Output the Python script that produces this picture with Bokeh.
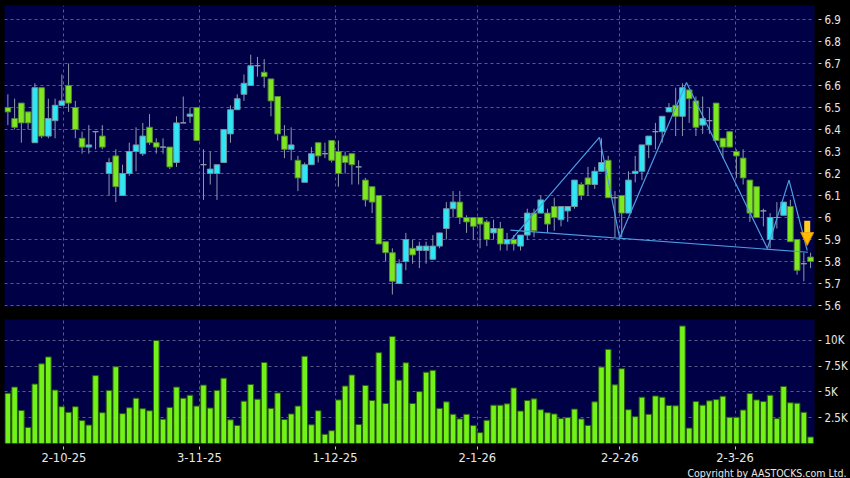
from bokeh.plotting import figure
from bokeh.layouts import column
from bokeh.models import (ColumnDataSource, FixedTicker, NumeralTickFormatter,
                          Arrow, NormalHead, Title, Range1d)
from bokeh.embed import file_html
from bokeh.resources import INLINE

# ---------------- data ----------------
opens = [6.50, 6.45, 6.52, 6.48, 6.34, 6.59, 6.37, 6.44, 6.51, 6.60,
         6.50, 6.36, 6.32, 6.39, 6.37, 6.20, 6.28, 6.10, 6.20, 6.30,
         6.29, 6.41, 6.34, 6.32, 6.32, 6.25, 6.43, 6.46, 6.50, 6.24,
         6.20, 6.20, 6.25, 6.38, 6.49, 6.56, 6.60, 6.69, 6.66, 6.63,
         6.55, 6.37, 6.31, 6.26, 6.16, 6.24, 6.34, 6.29, 6.35, 6.30,
         6.28, 6.29, 6.23, 6.17, 6.14, 6.10, 5.89, 5.84, 5.70, 5.80,
         5.86, 5.85, 5.85, 5.81, 5.87, 5.95, 6.04, 6.07, 6.00, 6.00,
         6.00, 5.98, 5.93, 5.95, 5.88, 5.90, 5.87, 5.92, 6.02, 6.02,
         6.02, 6.05, 5.99, 6.03, 6.05, 6.15, 6.18, 6.15, 6.21, 6.26,
         6.09, 6.10, 6.02, 6.20, 6.21, 6.33, 6.39, 6.39, 6.48, 6.51,
         6.46, 6.58, 6.53, 6.42, 6.44, 6.52, 6.36, 6.39, 6.30, 6.27,
         6.17, 6.14, 6.03, 5.90, 6.00, 6.01, 6.05, 5.90, 5.79, 5.82]
highs = [6.56, 6.54, 6.52, 6.48, 6.61, 6.59, 6.54, 6.54, 6.65, 6.70,
         6.53, 6.39, 6.42, 6.39, 6.42, 6.27, 6.31, 6.24, 6.34, 6.41,
         6.43, 6.47, 6.36, 6.36, 6.32, 6.46, 6.55, 6.50, 6.50, 6.31,
         6.30, 6.24, 6.40, 6.51, 6.56, 6.65, 6.74, 6.73, 6.72, 6.63,
         6.55, 6.42, 6.41, 6.28, 6.25, 6.32, 6.34, 6.34, 6.35, 6.35,
         6.30, 6.29, 6.26, 6.18, 6.14, 6.10, 5.89, 5.86, 5.81, 5.93,
         5.90, 5.89, 5.89, 5.92, 5.93, 6.07, 6.12, 6.12, 6.01, 6.00,
         6.00, 5.99, 5.99, 5.98, 5.93, 5.92, 5.92, 6.04, 6.04, 6.10,
         6.04, 6.09, 6.05, 6.05, 6.17, 6.16, 6.23, 6.23, 6.36, 6.28,
         6.12, 6.10, 6.21, 6.28, 6.33, 6.37, 6.43, 6.46, 6.52, 6.59,
         6.61, 6.58, 6.55, 6.55, 6.50, 6.52, 6.36, 6.39, 6.31, 6.31,
         6.17, 6.14, 6.04, 6.02, 6.07, 6.07, 6.08, 5.90, 5.84, 5.84]
lows = [6.42, 6.40, 6.34, 6.40, 6.34, 6.36, 6.36, 6.36, 6.51, 6.48,
        6.36, 6.29, 6.29, 6.31, 6.31, 6.10, 6.07, 6.10, 6.19, 6.21,
        6.28, 6.33, 6.29, 6.29, 6.22, 6.23, 6.43, 6.43, 6.35, 6.08,
        6.15, 6.08, 6.25, 6.34, 6.49, 6.53, 6.60, 6.64, 6.59, 6.46,
        6.35, 6.27, 6.26, 6.12, 6.16, 6.24, 6.25, 6.27, 6.25, 6.14,
        6.20, 6.15, 6.15, 6.05, 6.02, 5.88, 5.80, 5.65, 5.70, 5.76,
        5.79, 5.77, 5.79, 5.81, 5.86, 5.90, 6.00, 5.97, 5.93, 5.90,
        5.86, 5.87, 5.90, 5.85, 5.85, 5.85, 5.85, 5.90, 5.91, 6.02,
        5.93, 5.94, 5.96, 5.98, 6.04, 6.08, 6.10, 6.13, 6.21, 6.09,
        5.91, 5.91, 6.02, 6.16, 6.17, 6.27, 6.31, 6.34, 6.48, 6.37,
        6.37, 6.43, 6.37, 6.38, 6.38, 6.35, 6.27, 6.32, 6.18, 6.15,
        5.98, 6.00, 5.96, 5.86, 5.95, 6.01, 5.89, 5.74, 5.71, 5.77]
closes = [6.48, 6.41, 6.43, 6.43, 6.59, 6.37, 6.45, 6.51, 6.53, 6.52,
          6.40, 6.32, 6.33, 6.39, 6.32, 6.25, 6.14, 6.20, 6.30, 6.33,
          6.37, 6.34, 6.32, 6.32, 6.23, 6.43, 6.43, 6.47, 6.35, 6.24,
          6.22, 6.24, 6.40, 6.49, 6.54, 6.61, 6.69, 6.69, 6.64, 6.53,
          6.38, 6.31, 6.33, 6.18, 6.24, 6.29, 6.28, 6.29, 6.26, 6.20,
          6.25, 6.24, 6.23, 6.08, 6.07, 5.88, 5.84, 5.71, 5.79, 5.90,
          5.83, 5.87, 5.87, 5.87, 5.93, 6.04, 6.07, 6.00, 5.98, 5.96,
          5.97, 5.90, 5.95, 5.88, 5.90, 5.88, 5.92, 6.02, 5.94, 6.08,
          5.97, 6.00, 6.05, 6.05, 6.17, 6.10, 6.15, 6.21, 6.25, 6.09,
          6.09, 6.02, 6.17, 6.21, 6.33, 6.37, 6.39, 6.46, 6.50, 6.46,
          6.59, 6.54, 6.41, 6.45, 6.44, 6.35, 6.32, 6.32, 6.28, 6.18,
          6.02, 6.00, 6.03, 6.00, 6.00, 6.07, 5.89, 5.76, 5.79, 5.80]
volumes = [4860, 5460, 3200, 1560, 5750, 7710, 8380, 5170, 3560, 3020,
           3560, 2220, 1780, 6570, 2980, 5140, 7430, 2890, 3460, 4380,
           3370, 3170, 9970, 2350, 3490, 5460, 4380, 4670, 3620, 5650,
           3430, 5140, 6320, 2290, 1750, 4100, 5710, 4290, 7840, 3400,
           4890, 2320, 2860, 3620, 8440, 1810, 3170, 890, 1240, 4220,
           5560, 6630, 1840, 5620, 4160, 8790, 3870, 10350, 6130, 7810,
           3870, 5020, 6900, 7080, 3400, 4030, 2830, 2380, 2830, 1750,
           1050, 2250, 3710, 3710, 3840, 5370, 3140, 4160, 4320, 3270,
           2980, 2860, 2410, 2510, 3330, 2380, 1750, 4030, 7400, 9110,
           5680, 7240, 3270, 2600, 4480, 2830, 4600, 4480, 3680, 3650,
           11370, 1490, 4060, 3710, 4130, 4250, 4570, 2540, 2540, 3240,
           4830, 4220, 4060, 4670, 2410, 5520, 3940, 3900, 3020, 630]

date_labels = ["2-10-25", "3-11-25", "1-12-25", "2-1-26", "2-2-26", "2-3-26"]
date_index = [8.3, 28.4, 48.5, 69.6, 90.7, 107.8]

price_ticks = [5.6, 5.7, 5.8, 5.9, 6.0, 6.1, 6.2, 6.3, 6.4, 6.5, 6.6, 6.7, 6.8, 6.9]
vol_ticks = [2500, 5000, 7500, 10000]
vol_tick_labels = ["2.5K", "5K", "7.5K", "10K"]

# pattern drawing (index, price)
zigzag_index = [74.5, 87.7, 90.7, 100.6, 112.6, 115.8, 118.5]
zigzag_price = [5.895, 6.364, 5.907, 6.614, 5.859, 6.17, 5.85]
neck_index = [74.5, 118.6]
neck_price = [5.943, 5.842]
arrow_index = 118.5
arrow_from = 5.985
arrow_to = 5.873

copyright_text = "Copyright by AASTOCKS.com Ltd."

# ---------------- styling ----------------
FONT_C = "DejaVu Sans Condensed"
FONT_R = "DejaVu Sans"
PANEL = "#000046"
GRID = "#5a5a88"
TEXT = "#e8e8e8"
UP_FILL, UP_LINE = "#2ee6f5", "#7392a0"
DN_FILL, DN_LINE = "#7de81f", "#56883a"
DOJI = "#8d9aab"
WICK = "#8d9aab"

n = len(closes)
idx = list(range(n))
tops, bottoms, fills, lines = [], [], [], []
for o, c in zip(opens, closes):
    tops.append(max(o, c))
    bottoms.append(min(o, c))
    if c > o:
        fills.append(UP_FILL); lines.append(UP_LINE)
    elif c < o:
        fills.append(DN_FILL); lines.append(DN_LINE)
    else:
        fills.append(DOJI); lines.append(DOJI)

src = ColumnDataSource(dict(x=idx, high=highs, low=lows, top=tops,
                            bottom=bottoms, fill=fills, line=lines, vol=volumes))

x_start, x_end = -0.5, 119.58


def style_common(p):
    p.background_fill_color = PANEL
    p.border_fill_color = "black"
    p.outline_line_color = None
    for g in (p.xgrid, p.ygrid):
        g.grid_line_color = GRID
        g.grid_line_dash = "3 3"
        g.grid_line_width = 1
    p.xgrid.ticker = FixedTicker(ticks=date_index)


def style_axis(ax, font=FONT_C, size="11px"):
    ax.axis_line_color = None
    ax.major_tick_line_color = "#c8c8c8"
    ax.minor_tick_line_color = None
    ax.major_label_text_color = TEXT
    ax.major_label_text_font = font
    ax.major_label_text_font_size = size


# ---------------- price panel ----------------
p1 = figure(frame_width=810, frame_height=301,
            x_range=Range1d(x_start, x_end), y_range=Range1d(5.5955, 6.9636),
            output_backend="svg", toolbar_location=None,
            x_axis_location=None, y_axis_location="right",
            min_border_left=4, min_border_top=5, min_border_bottom=6,
            min_border_right=36)
style_common(p1)
p1.ygrid.ticker = FixedTicker(ticks=price_ticks)
p1.yaxis.ticker = FixedTicker(ticks=price_ticks)
p1.yaxis.formatter = NumeralTickFormatter(format="0.[0]")
style_axis(p1.yaxis[0], FONT_C, "11.5px")
p1.yaxis.major_tick_in = -4
p1.yaxis.major_tick_out = 7
p1.yaxis.major_label_standoff = 3

p1.segment(x0="x", y0="low", x1="x", y1="high", source=src, line_color=WICK, line_width=1)
p1.vbar(x="x", width=0.84, top="top", bottom="bottom", source=src,
        fill_color="fill", line_color="line", line_width=1)

p1.line(neck_index, neck_price, line_color="#4d9de0", line_width=1.2)
p1.line(zigzag_index, zigzag_price, line_color="#4d9de0", line_width=1.2)

p1.add_layout(Arrow(x_start=arrow_index, y_start=arrow_from,
                    x_end=arrow_index, y_end=arrow_to,
                    line_color="#ffcc22", line_width=6,
                    end=NormalHead(size=13, fill_color="#ffbb00",
                                   line_color="#d89000", line_width=1)))

# ---------------- volume panel ----------------
p2 = figure(frame_width=810, frame_height=124,
            x_range=p1.x_range, y_range=Range1d(0, 12000),
            output_backend="svg", toolbar_location=None,
            x_axis_location="below", y_axis_location="right",
            min_border_left=4, min_border_top=7, min_border_bottom=35,
            min_border_right=36)
style_common(p2)
p2.ygrid.ticker = FixedTicker(ticks=vol_ticks)
p2.yaxis.ticker = FixedTicker(ticks=vol_ticks)
p2.yaxis.major_label_overrides = dict(zip(vol_ticks, vol_tick_labels))
style_axis(p2.yaxis[0], FONT_C, "11.5px")
p2.yaxis.major_tick_in = -4
p2.yaxis.major_tick_out = 7
p2.yaxis.major_label_standoff = 3

p2.xaxis.ticker = FixedTicker(ticks=date_index)
p2.xaxis.major_label_overrides = dict(zip(date_index, date_labels))
style_axis(p2.xaxis[0], FONT_R, "11.5px")
p2.xaxis.major_tick_in = -3
p2.xaxis.major_tick_out = 6
p2.xaxis.major_label_standoff = 3

p2.vbar(x="x", width=0.84, top="vol", bottom=0, source=src,
        fill_color="#72f218", line_color="#2b5a12", line_width=1)

p2.add_layout(Title(text=copyright_text, align="right", offset=-32, standoff=0,
                    text_color=TEXT, text_font=FONT_C, text_font_size="10.5px",
                    text_font_style="normal"), "below")

layout = column(p1, p2, spacing=0)
html = file_html(layout, INLINE)
html = html.replace("</head>", "<style>html,body{background:#000000;}</style></head>", 1)
open("out.html", "w").write(html)
